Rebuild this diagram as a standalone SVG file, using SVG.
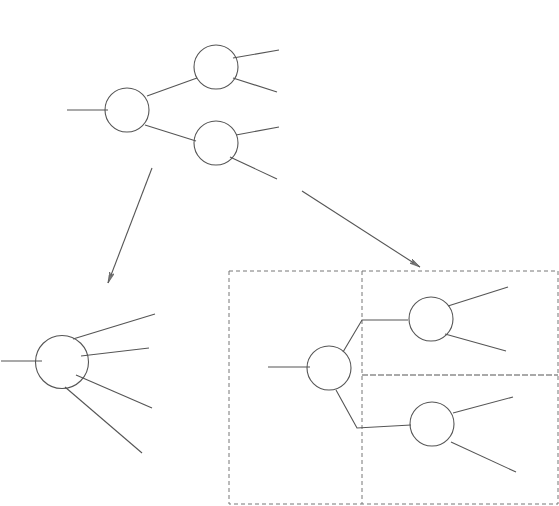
<svg xmlns="http://www.w3.org/2000/svg" width="559" height="506" viewBox="0 0 559 506">
<style>
.n{fill:none;stroke:#555;stroke-width:1.1}
.e{fill:none;stroke:#555;stroke-width:1.1}
.d{fill:none;stroke:#777;stroke-width:1;stroke-dasharray:4 3}
.d2{fill:none;stroke:#555;stroke-width:1.1;stroke-dasharray:6 2}
</style>
<defs>
<marker id="ah" viewBox="0 0 11 5" refX="11" refY="2.5" markerWidth="11" markerHeight="5" markerUnits="userSpaceOnUse" orient="auto">
<path d="M0,0 L11,2.5 L0,5 L3,2.5 Z" fill="#777" stroke="#555" stroke-width="0.6"/>
</marker>
</defs>
<rect width="559" height="506" fill="#fff"/>
<g id="frame">
<rect class="d" x="229" y="271" width="329" height="233"/>
<line class="d" x1="362" y1="271" x2="362" y2="504"/>
<line class="d2" x1="362" y1="375" x2="558" y2="375"/>
</g>
<g id="top-root"><circle class="n" cx="127" cy="110" r="22"/></g>
<g id="top-upper"><circle class="n" cx="216" cy="67" r="22"/></g>
<g id="top-lower"><circle class="n" cx="216" cy="143" r="22"/></g>
<g id="left-node"><circle class="n" cx="62" cy="362" r="26.5"/></g>
<g id="box-root"><circle class="n" cx="329" cy="368" r="22"/></g>
<g id="box-upper"><circle class="n" cx="431" cy="319" r="22"/></g>
<g id="box-lower"><circle class="n" cx="432" cy="424" r="22"/></g>
<g id="connectors">
<line class="e" x1="67" y1="110" x2="108" y2="110"/>
<line class="e" x1="147" y1="96" x2="197" y2="78"/>
<line class="e" x1="145" y1="125" x2="196" y2="141"/>
<line class="e" x1="233" y1="58" x2="279" y2="50"/>
<line class="e" x1="233" y1="78" x2="277" y2="92"/>
<line class="e" x1="236" y1="135" x2="279" y2="127"/>
<line class="e" x1="230" y1="157" x2="277" y2="179"/>
<line class="e" x1="152" y1="168" x2="108" y2="283" marker-end="url(#ah)"/>
<line class="e" x1="302" y1="191" x2="420" y2="267" marker-end="url(#ah)"/>
<line class="e" x1="1" y1="361" x2="42" y2="361"/>
<line class="e" x1="73" y1="339" x2="155" y2="314"/>
<line class="e" x1="81" y1="356" x2="149" y2="348"/>
<line class="e" x1="76" y1="375" x2="152" y2="408"/>
<line class="e" x1="65" y1="387" x2="142" y2="453"/>
<line class="e" x1="268" y1="367" x2="310" y2="367"/>
<polyline class="e" points="343,352 362,320 408,320"/>
<polyline class="e" points="336,390 357,428 411,425"/>
<line class="e" x1="448" y1="306" x2="508" y2="287"/>
<line class="e" x1="445" y1="334" x2="506" y2="351"/>
<line class="e" x1="453" y1="413" x2="513" y2="397"/>
<line class="e" x1="451" y1="442" x2="516" y2="472"/>
</g>
</svg>
